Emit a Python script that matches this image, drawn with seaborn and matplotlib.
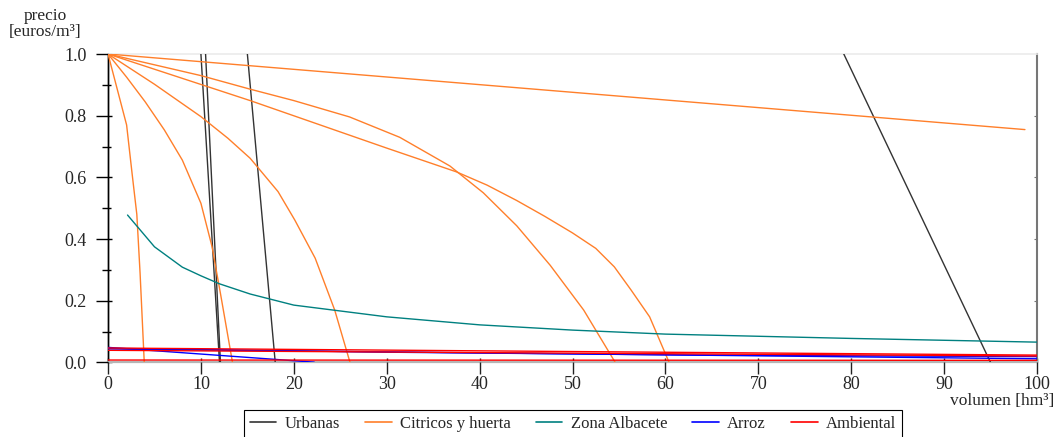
import numpy as np
import pandas as pd
import matplotlib
matplotlib.use("Agg")
import matplotlib.pyplot as plt
import seaborn as sns
from matplotlib.lines import Line2D
from matplotlib.ticker import MultipleLocator

sns.set_style("white")
plt.rcParams['font.family'] = ['Liberation Serif', 'DejaVu Serif']

# ---------------- data ----------------
series_names = ["Urbanas", "Citricos y huerta", "Zona Albacete", "Arroz", "Ambiental"]
series_colors = ["#333333", "#ff7f2a", "#008080", "#0000ff", "#ff0000"]

urb_a_x = [10.0, 12.0];  urb_a_y = [1.0, 0.0]
urb_b_x = [10.5, 12.1];  urb_b_y = [1.0, 0.0]
urb_c_x = [15.0, 18.0];  urb_c_y = [1.0, 0.0]
urb_d_x = [79.2, 95.0];  urb_d_y = [1.0, 0.0]

cit_a_x = [0.0, 1.0, 2.0, 2.6, 3.1, 3.45, 3.9]
cit_a_y = [1.0, 0.885, 0.77, 0.61, 0.48, 0.29, 0.0]
cit_b_x = [0.0, 2.0, 4.0, 6.06, 8.0, 10.0, 11.2, 12.1, 13.4]
cit_b_y = [1.0, 0.925, 0.845, 0.754, 0.656, 0.516, 0.375, 0.224, 0.0]
cit_c_x = [0.0, 5.0, 10.0, 12.9, 15.3, 18.3, 20.1, 22.3, 24.4, 26.05]
cit_c_y = [1.0, 0.902, 0.797, 0.727, 0.662, 0.554, 0.462, 0.338, 0.170, 0.0]
cit_d_x = [0.0, 10.0, 15.3, 20.0, 26.0, 31.4, 36.8, 40.4, 44.0, 47.6, 51.2, 54.6]
cit_d_y = [1.0, 0.93, 0.886, 0.849, 0.796, 0.73, 0.637, 0.55, 0.443, 0.315, 0.17, 0.0]
cit_e_x = [0.0, 15.3, 30.0, 37.5, 40.8, 44.0, 47.0, 50.0, 52.5, 54.5, 56.3, 58.3, 60.4]
cit_e_y = [1.0, 0.849, 0.695, 0.618, 0.575, 0.525, 0.474, 0.42, 0.37, 0.31, 0.235, 0.148, 0.0]
cit_f_x = [0.0, 98.7]
cit_f_y = [1.0, 0.755]

alb_x = [2.1, 5.0, 8.0, 10.0, 12.0, 15.3, 20.0, 30.0, 40.0, 50.0, 60.0, 70.0, 80.0, 90.0, 100.0]
alb_y = [0.478, 0.375, 0.309, 0.281, 0.255, 0.222, 0.186, 0.148, 0.122, 0.105, 0.092, 0.085, 0.078, 0.072, 0.066]

arz_a_x = [0.0, 22.2];               arz_a_y = [0.049, 0.001]
arz_b_x = [0.0, 31.4, 63.7, 100.0];  arz_b_y = [0.046, 0.033, 0.024, 0.019]
arz_c_x = [0.0, 100.0];              arz_c_y = [0.044, 0.012]

amb_a_x = [0.0, 100.0];  amb_a_y = [0.047, 0.024]
amb_b_x = [0.0, 100.0];  amb_b_y = [0.0395, 0.021]
amb_c_x = [0.0, 100.0];  amb_c_y = [0.008, 0.007]

yticks = [0.0, 0.2, 0.4, 0.6, 0.8, 1.0]
ytick_labels = ["0.0", "0.2", "0.4", "0.6", "0.8", "1.0"]
xticks = [0, 10, 20, 30, 40, 50, 60, 70, 80, 90, 100]

# -------------- long table --------------
curves = [
    ("Urbanas", "u1", urb_a_x, urb_a_y), ("Urbanas", "u2", urb_b_x, urb_b_y),
    ("Urbanas", "u3", urb_c_x, urb_c_y), ("Urbanas", "u4", urb_d_x, urb_d_y),
    ("Citricos y huerta", "c1", cit_a_x, cit_a_y), ("Citricos y huerta", "c2", cit_b_x, cit_b_y),
    ("Citricos y huerta", "c3", cit_c_x, cit_c_y), ("Citricos y huerta", "c4", cit_d_x, cit_d_y),
    ("Citricos y huerta", "c5", cit_e_x, cit_e_y), ("Citricos y huerta", "c6", cit_f_x, cit_f_y),
    ("Zona Albacete", "z1", alb_x, alb_y),
    ("Arroz", "a1", arz_a_x, arz_a_y), ("Arroz", "a2", arz_b_x, arz_b_y), ("Arroz", "a3", arz_c_x, arz_c_y),
    ("Ambiental", "m1", amb_a_x, amb_a_y), ("Ambiental", "m2", amb_b_x, amb_b_y), ("Ambiental", "m3", amb_c_x, amb_c_y),
]
rows = []
for serie, cid, xs, ys in curves:
    for i, (x, y) in enumerate(zip(xs, ys)):
        rows.append({"serie": serie, "id": cid, "order": i, "x": x, "y": y})
df = pd.DataFrame(rows)

palette = dict(zip(series_names, series_colors))

fig = plt.figure(figsize=(10.57, 4.37), dpi=100)
ax = fig.add_axes([0.1022, 0.1705, 0.8789, 0.7059])

sns.lineplot(data=df, x="x", y="y", hue="serie", hue_order=series_names, units="id",
             estimator=None, sort=False, palette=palette, lw=1.0, legend=False, ax=ax)

ax.set_xlim(0, 100)
ax.set_ylim(0, 1)
ax.set_xticks(xticks)
ax.set_xticklabels([str(t) for t in xticks])
ax.set_yticks(yticks)
ax.set_yticklabels(ytick_labels)
ax.yaxis.set_minor_locator(MultipleLocator(0.1))
ax.set_xlabel("")
ax.set_ylabel("")

ax.spines['left'].set_color('black'); ax.spines['left'].set_linewidth(1.0)
ax.spines['bottom'].set_color('#b5b5b5'); ax.spines['bottom'].set_linewidth(1.6)
ax.spines['top'].set_color('#ebebeb'); ax.spines['top'].set_linewidth(1.2)
ax.spines['right'].set_visible(False)
for s in ax.spines.values():
    s.set_zorder(0.5)

# outward part of the ticks
ax.tick_params(axis='y', which='major', direction='out', length=8.4, width=1.0,
               color='black', labelsize=13, pad=7, left=True)
ax.tick_params(axis='y', which='minor', direction='out', length=4.3, width=1.0,
               color='black', left=True)
ax.tick_params(axis='x', which='major', direction='out', length=8.4, width=1.0,
               color='#222222', labelsize=13, pad=1, bottom=True)

# inward part of the ticks
in_left = ax.secondary_yaxis('left')
in_left.set_yticks(yticks)
in_left.yaxis.set_minor_locator(MultipleLocator(0.1))
in_left.tick_params(which='major', direction='in', length=3, width=1.0, color='black', labelleft=False)
in_left.tick_params(which='minor', direction='in', length=2, width=1.0, color='black', labelleft=False)
in_left.spines['left'].set_color('black'); in_left.spines['left'].set_linewidth(1.0)

in_bottom = ax.secondary_xaxis('bottom')
in_bottom.set_xticks(xticks)
in_bottom.tick_params(direction='in', length=3, width=1.0, color='#222222', labelbottom=False)
in_bottom.spines['bottom'].set_visible(False)

sec = ax.secondary_yaxis('right')
sec.set_yticks([0.2, 0.4, 0.6, 0.8])
sec.tick_params(direction='in', length=2, color='#777777', labelright=False)
sec.spines['right'].set_color('#777777')
sec.spines['right'].set_linewidth(1.5)

fig.text(45 / 1057, 1 - 24 / 437, "precio\n[euros/m³]", ha='center', va='center',
         fontsize=12.5, linespacing=1.0)
fig.text(1054 / 1057, 1 - 405 / 437, "volumen [hm³]", ha='right', va='baseline', fontsize=12.5)

handles = [Line2D([], [], color=c, lw=1.2) for c in series_colors]
leg = fig.legend(handles, series_names, loc='upper center',
                 bbox_to_anchor=(573 / 1057, 1 - 410 / 437), ncol=5, frameon=True,
                 fancybox=False, edgecolor='black', framealpha=1, fontsize=12,
                 handlelength=1.6, columnspacing=1.5, handletextpad=0.5, borderpad=0.35,
                 borderaxespad=0)
leg.get_frame().set_linewidth(0.8)

fig.savefig("out.png", dpi=100)
